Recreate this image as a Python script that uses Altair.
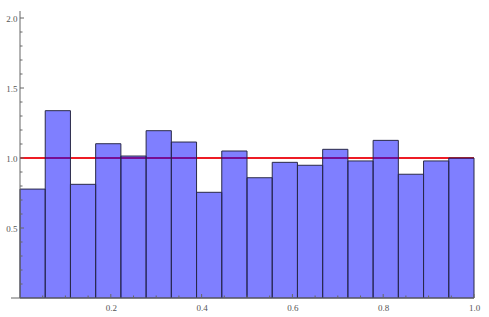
import altair as alt
import pandas as pd

# Histogram bar heights (18 equal bins over [0, 1])
heights = [0.778, 1.338, 0.812, 1.102, 1.014, 1.195, 1.114, 0.755, 1.050,
           0.859, 0.969, 0.948, 1.062, 0.979, 1.126, 0.884, 0.979, 1.000]
n_bins = 18

# Reference line
ref_x = [0.0, 1.0]
ref_y = 1.0

# Tick values
x_major = [0.2, 0.4, 0.6, 0.8, 1.0]
x_minor = [0.05, 0.1, 0.15, 0.25, 0.3, 0.35, 0.45, 0.5, 0.55, 0.65, 0.7, 0.75,
           0.85, 0.9, 0.95]
y_major = [0.5, 1.0, 1.5, 2.0]
y_minor = [0.1, 0.2, 0.3, 0.4, 0.6, 0.7, 0.8, 0.9, 1.1, 1.2, 1.3, 1.4,
           1.6, 1.7, 1.8, 1.9]

W, H = 454, 287
axis_color = "#666666"
font = "Liberation Serif"

bars = pd.DataFrame({
    "start": [i / n_bins for i in range(n_bins)],
    "end": [(i + 1) / n_bins for i in range(n_bins)],
    "height": heights,
    "base": [0.0] * n_bins,
})

xs = alt.Scale(domain=[0, 1], nice=False, zero=False)
ys = alt.Scale(domain=[0, 2.05], nice=False, zero=False)

x_axis = alt.Axis(values=x_major, format=".1f", ticks=False, tickSize=0,
                  domain=False, grid=False, labelFont=font, labelFontSize=9,
                  labelColor="#555555", labelPadding=5, labelFlush=False,
                  labelOverlap=False, title=None)
y_axis = alt.Axis(values=y_major, format=".1f", ticks=False, tickSize=0,
                  domain=False, grid=False, labelFont=font, labelFontSize=9,
                  labelColor="#555555", labelPadding=3, labelOverlap=False,
                  title=None)


def X(field):
    return alt.X(field, scale=xs, axis=x_axis)


def Y(field):
    return alt.Y(field, scale=ys, axis=y_axis)


line_df = pd.DataFrame({"x0": [ref_x[0]], "x1": [ref_x[1]], "y": [ref_y]})
red = alt.Chart(line_df).mark_rule(color="#ee1c25", strokeWidth=2).encode(
    x=X("x0:Q"), x2="x1:Q", y=Y("y:Q"),
)

hist = alt.Chart(bars).mark_rect(
    fill="#0000ff", fillOpacity=0.5, stroke="#2a2a48", strokeWidth=1
).encode(
    x=X("start:Q"), x2="end:Q", y=Y("height:Q"), y2="base:Q",
)

# axis lines
x_line = alt.Chart(pd.DataFrame({"v": [0.0]})).mark_rule(
    color=axis_color, strokeWidth=1).encode(
    y=Y("v:Q"), x=alt.value(-9), x2=alt.value(W))
y_line = alt.Chart(pd.DataFrame({"v": [0.0]})).mark_rule(
    color=axis_color, strokeWidth=1).encode(
    x=X("v:Q"), y=alt.value(0), y2=alt.value(H))

# ticks (pointing inward)
y_maj_t = alt.Chart(pd.DataFrame({"v": y_major})).mark_rule(
    color=axis_color, strokeWidth=1).encode(
    y=Y("v:Q"), x=alt.value(0), x2=alt.value(4))
y_min_t = alt.Chart(pd.DataFrame({"v": y_minor})).mark_rule(
    color=axis_color, strokeWidth=1).encode(
    y=Y("v:Q"), x=alt.value(0), x2=alt.value(2.5))
x_maj_t = alt.Chart(pd.DataFrame({"v": x_major})).mark_rule(
    color=axis_color, strokeWidth=1).encode(
    x=X("v:Q"), y=alt.value(H), y2=alt.value(H - 4))
x_min_t = alt.Chart(pd.DataFrame({"v": x_minor})).mark_rule(
    color=axis_color, strokeWidth=1).encode(
    x=X("v:Q"), y=alt.value(H), y2=alt.value(H - 2.5))

chart = alt.layer(red, hist, x_line, y_line, y_maj_t, y_min_t, x_maj_t, x_min_t).properties(
    width=W, height=H,
    autosize=alt.AutoSizeParams(type="none"),
    padding={"left": 20, "top": 11, "right": 15, "bottom": 19},
    background="white",
).configure_view(stroke=None)

chart.save("out.html", embed_options={"renderer": "svg", "actions": False})
